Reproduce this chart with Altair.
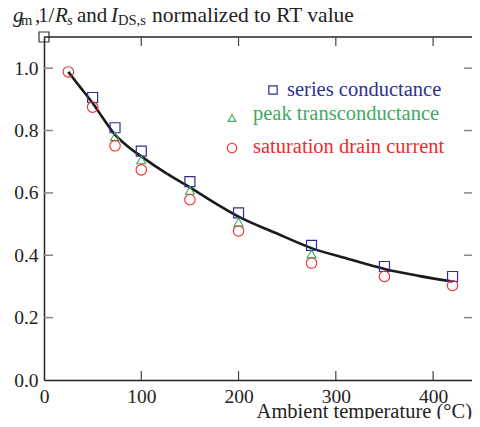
import altair as alt
import pandas as pd

# ---------------- data ----------------
sq_x = [50, 73, 100, 150, 200, 275, 350, 420]
sq_y = [0.906, 0.809, 0.734, 0.636, 0.536, 0.432, 0.364, 0.332]

tri_x = [73, 100, 150, 200, 275]
tri_y = [0.781, 0.706, 0.608, 0.506, 0.404]

cir_x = [25, 50, 73, 100, 150, 200, 275, 350, 420]
cir_y = [0.988, 0.875, 0.751, 0.674, 0.578, 0.478, 0.375, 0.332, 0.303]

curve_x = [25, 37, 50, 60, 73, 85, 100, 125, 150, 175, 200, 237, 275, 312, 350, 385, 420]
curve_y = [0.988, 0.940, 0.888, 0.843, 0.787, 0.752, 0.717, 0.664, 0.618, 0.569, 0.524,
           0.473, 0.423, 0.389, 0.356, 0.334, 0.316]

corner_x = [0]
corner_y = [1.1]

x_labels = [0, 100, 200, 300, 400]
y_labels = [0.0, 0.2, 0.4, 0.6, 0.8, 1.0]
x_ticks = [100, 200, 300, 400]
y_ticks = [0.2, 0.4, 0.6, 0.8, 1.0]

# ---------------- styling ----------------
W, H = 428, 343
FONT = "'Liberation Serif', 'Times New Roman', Times, 'DejaVu Serif', serif"
BLUE = "#2e3192"
GREEN = "#3daa5f"
RED = "#ee2a2f"
FS = 19.5

xs = alt.Scale(domain=[0, 440], nice=False, zero=False)
ys = alt.Scale(domain=[0, 1.1], nice=False, zero=False)

x_axis = alt.Axis(
    values=x_labels, format="d", grid=False, ticks=False, tickSize=0,
    domain=True, domainColor="#222", domainWidth=1.5,
    labelFont=FONT, labelFontSize=FS, labelColor="#222", labelPadding=7,
    labelFlush=False, labelOverlap=False, title=None)
y_axis = alt.Axis(
    values=y_labels, format=".1f", grid=False, ticks=False, tickSize=0,
    domain=True, domainColor="#222", domainWidth=1.5,
    labelFont=FONT, labelFontSize=FS, labelColor="#222", labelPadding=6,
    labelFlush=False, labelOverlap=False, title=None)


def X():
    return alt.X("x:Q", scale=xs, axis=x_axis)


def Y():
    return alt.Y("y:Q", scale=ys, axis=y_axis)


sq_df = pd.DataFrame({"x": sq_x, "y": sq_y})
tri_df = pd.DataFrame({"x": tri_x, "y": tri_y})
cir_df = pd.DataFrame({"x": cir_x, "y": cir_y})
curve_df = pd.DataFrame({"x": curve_x, "y": curve_y})
corner_df = pd.DataFrame({"x": corner_x, "y": corner_y})
xt_df = pd.DataFrame({"x": x_ticks})
yt_df = pd.DataFrame({"y": y_ticks})

curve = alt.Chart(curve_df).mark_line(
    color="#1a1a1a", strokeWidth=2.6, interpolate="monotone"
).encode(x=X(), y=Y())

squares = alt.Chart(sq_df).mark_point(
    shape="square", size=100, color=BLUE, strokeWidth=1.2, filled=False, opacity=1
).encode(x=X(), y=Y())

tris = alt.Chart(tri_df).mark_point(
    shape="triangle-up", size=80, color=GREEN, strokeWidth=1.1, filled=False, opacity=1
).encode(x=X(), y=Y())

circs = alt.Chart(cir_df).mark_point(
    shape="circle", size=110, color=RED, strokeWidth=1.1, filled=False, opacity=1
).encode(x=X(), y=Y())

corner = alt.Chart(corner_df).mark_point(
    shape="square", size=100, color="#333", strokeWidth=1.2, filled=False, opacity=1
).encode(x=X(), y=Y())

one = alt.Data(values=[{"a": 0}])

# frame ticks and top border
bottom_ticks = alt.Chart(xt_df).mark_rule(color="#444", strokeWidth=1.2).encode(
    x=X(), y=alt.value(H), y2=alt.value(H - 9))
top_ticks = alt.Chart(xt_df).mark_rule(color="#444", strokeWidth=1.2).encode(
    x=X(), y=alt.value(0), y2=alt.value(9))
left_ticks = alt.Chart(yt_df).mark_rule(color="#888", strokeWidth=1.5).encode(
    y=Y(), x=alt.value(0), x2=alt.value(9))
right_ticks = alt.Chart(yt_df).mark_rule(color="#888", strokeWidth=1.5).encode(
    y=Y(), x=alt.value(W - 8), x2=alt.value(W))
top_border = alt.Chart(one).mark_rule(color="#222", strokeWidth=1.5).encode(
    x=alt.value(0), x2=alt.value(W), y=alt.value(0))


def txt(s, x, y, size=FS, color="#222", style="normal", align="left", baseline="alphabetic"):
    return alt.Chart(one).mark_text(
        text=s, font=FONT, fontSize=size, color=color, fontStyle=style,
        align=align, baseline=baseline
    ).encode(x=alt.value(x), y=alt.value(y))


# y title pieces (positions relative to plot origin at page (44, 37))
TB = -15.5
SB = -12.5
TS = 21
SS = 14.5
title_parts = [
    txt("g", -31, TB, size=TS, style="italic"),
    txt("m", -23, SB, size=SS),
    txt(",", -9, TB, size=TS),
    txt("1/", -6, TB, size=TS),
    txt("R", 11, TB, size=TS, style="italic"),
    txt("s", 23, SB, size=SS, style="italic"),
    txt("and", 33, TB, size=TS),
    txt("I", 67, TB, size=TS, style="italic"),
    txt("DS,s", 74, SB, size=SS),
    txt("normalized to RT value", 108, TB, size=21.5),
]

x_title = txt("Ambient temperature (°C)", W, 380.5, size=20.5, align="right")

# legend
leg_sq = alt.Chart(one).mark_point(shape="square", size=70, color=BLUE, strokeWidth=1.2,
                                   filled=False, opacity=1).encode(x=alt.value(229), y=alt.value(53))
leg_tri = alt.Chart(one).mark_point(shape="triangle-up", size=60, color=GREEN, strokeWidth=1.1,
                                    filled=False, opacity=1).encode(x=alt.value(188), y=alt.value(81))
leg_cir = alt.Chart(one).mark_point(shape="circle", size=90, color=RED, strokeWidth=1.1,
                                    filled=False, opacity=1).encode(x=alt.value(188), y=alt.value(111))
LS = 20.5
leg_t1 = txt("series conductance", 243, 53, size=LS, color=BLUE, baseline="middle")
leg_t2 = txt("peak transconductance", 209, 77, size=LS, color=GREEN, baseline="middle")
leg_t3 = txt("saturation drain current", 209, 110, size=LS, color=RED, baseline="middle")

chart = alt.layer(
    curve, top_border, bottom_ticks, top_ticks, left_ticks, right_ticks,
    squares, tris, circs, corner,
    *title_parts, x_title,
    leg_sq, leg_tri, leg_cir, leg_t1, leg_t2, leg_t3,
).properties(
    width=W, height=H,
    autosize=alt.AutoSizeParams(type="none"),
    padding={"left": 36, "top": 29, "right": 0, "bottom": 39},
    background="white",
).configure_view(stroke=None)

chart.save("out.html", embed_options={"renderer": "svg", "actions": False})
